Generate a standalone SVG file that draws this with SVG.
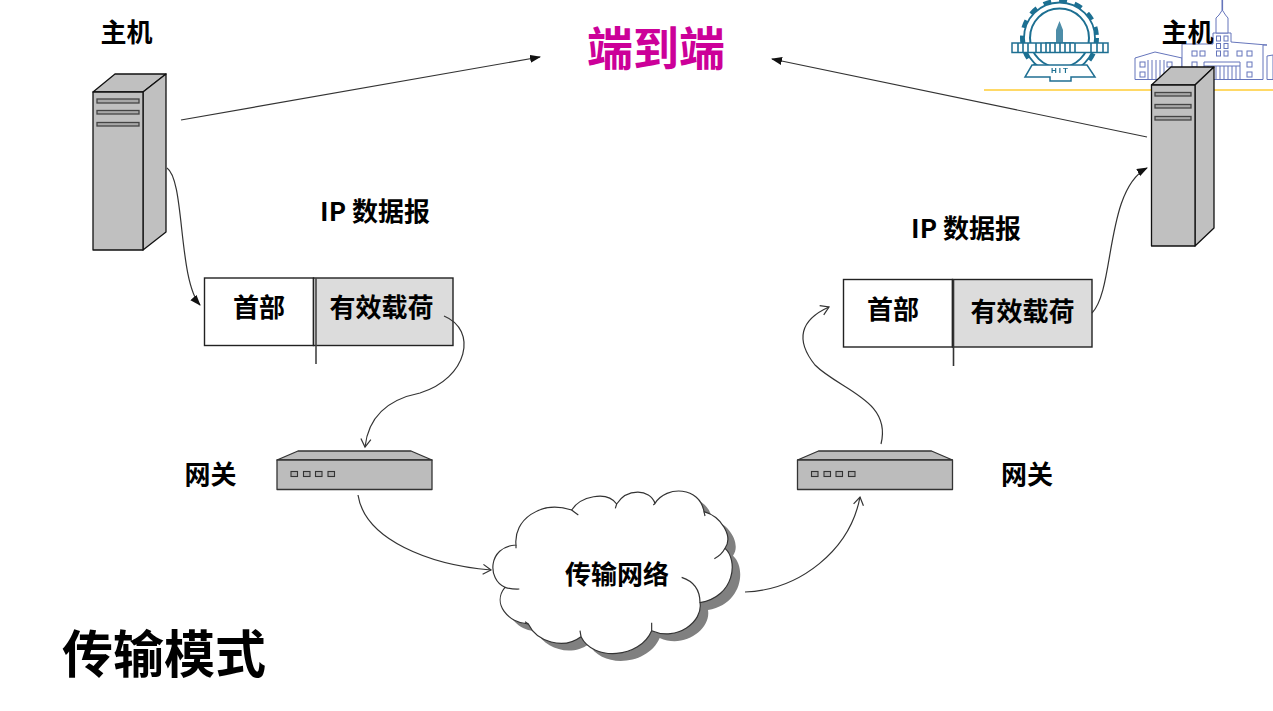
<svg xmlns="http://www.w3.org/2000/svg" xmlns:xlink="http://www.w3.org/1999/xlink" width="1273" height="711" viewBox="0 0 1273 711">
<style>
text{font-family:"Noto Sans CJK SC","Liberation Sans",sans-serif;font-weight:700;fill:#000;text-anchor:middle}
.t26{font-size:26px}
.srv{fill:#c0c0c0;stroke:#111;stroke-width:1.3;stroke-linejoin:round}
.slot{fill:#a8a8a8;stroke:#444;stroke-width:1.3}
.gw{fill:#bcbcbc;stroke:#333;stroke-width:1.3;stroke-linejoin:round}
.led{fill:#aaa;stroke:#333;stroke-width:1.1}
.box{stroke:#222;stroke-width:1.4}
.c{fill:none;stroke:#333;stroke-width:1.2}
.lg{fill:none;stroke:#1f6f92}
.wn{fill:#fff;stroke:#6575bb;stroke-width:1}
.bl{fill:#fff;stroke:#6575bb;stroke-width:1}
</style>
<defs>
<filter id="soft" x="-5%" y="-5%" width="110%" height="110%"><feGaussianBlur stdDeviation="0.45"/></filter>
<marker id="filled" markerWidth="12" markerHeight="10" refX="10" refY="4" orient="auto" markerUnits="userSpaceOnUse"><path d="M0,0 L11,4 L0,8 Z" fill="#111"/></marker>
<marker id="open" markerWidth="12" markerHeight="12" refX="9" refY="6" orient="auto" markerUnits="userSpaceOnUse"><path d="M1,1 L9,6 L1,11" fill="none" stroke="#333" stroke-width="1.200"/></marker>
<g id="gwShape">
<path class="gw" d="M277,460 L298,451 L411,451 L432,460 Z"/>
<rect class="gw" x="277" y="460" width="155" height="29.500"/>
<rect class="led" x="291" y="471.500" width="6.500" height="5"/>
<rect class="led" x="303.500" y="471.500" width="6.500" height="5"/>
<rect class="led" x="315.500" y="471.500" width="6.500" height="5"/>
<rect class="led" x="328" y="471.500" width="6.500" height="5"/>
</g>
<path id="cloudPath" d="M108,195 C100,120 180,60 275,90 C300,50 380,30 410,72 C440,25 510,25 525,70 C560,15 660,20 672,95 C725,110 760,170 735,205 C775,240 765,350 660,368 C670,425 590,485 515,452 C480,535 340,545 303,470 C250,510 170,485 145,432 C85,430 35,370 75,322 C22,300 22,200 108,195 Z"/>
</defs>
<rect width="1273" height="711" fill="#fff"/>

<g id="logo">
<line x1="984" y1="90" x2="1273" y2="90" stroke="#ffd966" stroke-width="2"/>
<g id="emblem" filter="url(#soft)">
<circle class="lg" cx="1059.500" cy="38" r="29.500" stroke-width="2"/>
<circle class="lg" cx="1059.500" cy="38" r="35.500" stroke-width="1.800"/>
<circle class="lg" cx="1059.500" cy="38" r="37.500" stroke-width="4" stroke-dasharray="8 8"/>
<path d="M1045,52 V42 H1074 V52 Z" fill="#1f6f92" opacity=".7"/>
<path d="M1059.500,21 L1056,30 H1063 Z M1056,30 H1063 V42 H1056 Z" fill="#1f6f92" opacity=".8"/>
<rect x="1012" y="43" width="96" height="9.500" fill="#fff" stroke="#1f6f92" stroke-width="1.500"/>
<path d="M1018,43v10M1023,43v10M1028,43v10M1036,43v10M1041,43v10M1046,43v10M1050,43v10M1055,43v10M1060,43v10M1065,43v10M1070,43v10M1075,43v10M1091,43v10M1097,43v10M1103,43v10" stroke="#1f6f92" stroke-width="1.600"/>
<path d="M1032,65 H1087 L1095,77 H1071 V81 H1050 V77 H1025 Z" fill="#fff" stroke="#1f6f92" stroke-width="1.500"/>
<text x="1060.500" y="72.500" style="font-size:8px;letter-spacing:2px;fill:#1f6f92;font-family:'Liberation Sans',sans-serif">HIT</text>
</g>
<g id="building" filter="url(#soft)">
<line x1="1222.300" y1="0" x2="1222.300" y2="10" stroke="#6575bb" stroke-width="1.600"/>
<path class="bl" d="M1135,79.500 V58 L1155,52 L1182,58 V79.500 Z"/>
<path class="bl" d="M1182,79.500 V44 H1213 V33 H1231 V42 L1267,45 H1263 V79.500 Z"/>
<path class="bl" d="M1267,79.500 V56 L1273,55 V79.500 Z"/>
<path class="bl" d="M1216,33 V18 L1219,15 L1222.300,10 L1225.500,15 L1228,18 V33 Z"/>
<path d="M1148,60v19M1152,60v19M1156,60v19M1160,60v19M1164,60v19" stroke="#6575bb"/>
<rect class="wn" x="1140" y="62" width="5" height="5"/><rect class="wn" x="1140" y="72" width="5" height="5"/>
<rect class="wn" x="1167" y="62" width="5" height="5"/><rect class="wn" x="1167" y="72" width="5" height="5"/>
<rect class="wn" x="1192" y="51" width="5" height="5"/><rect class="wn" x="1200" y="51" width="5" height="5"/><rect class="wn" x="1192" y="62" width="5" height="5"/>
<rect class="wn" x="1216.500" y="36" width="4" height="5"/><rect class="wn" x="1224" y="36" width="4" height="5"/>
<rect class="wn" x="1216.500" y="43.500" width="4" height="5"/><rect class="wn" x="1224" y="43.500" width="4" height="5"/>
<rect class="wn" x="1216.500" y="51" width="4" height="5"/><rect class="wn" x="1224" y="51" width="4" height="5"/>
<rect class="wn" x="1237" y="51" width="5" height="5"/><rect class="wn" x="1247" y="51" width="5" height="5"/>
<rect class="wn" x="1247" y="62" width="5" height="5"/><rect class="wn" x="1247" y="72" width="5" height="5"/>
<path d="M1204,66 V62 H1240 V66 H1204 V79.500 H1240 V66" fill="#fff" stroke="#6575bb"/>
<path d="M1208,66v13M1212,66v13M1216,66v13M1220,66v13M1224,66v13M1228,66v13M1232,66v13M1236,66v13" stroke="#6575bb"/>
</g>
</g>

<g id="host-left">
<path class="srv" d="M93,92 L115,74 H166 L143,92 Z"/>
<path class="srv" d="M143,92 L166,74 V232 L143,250 Z"/>
<rect class="srv" x="93" y="92" width="50" height="158"/>
<rect class="slot" x="97" y="99" width="42" height="4"/>
<rect class="slot" x="97" y="110.500" width="42" height="3.500"/>
<rect class="slot" x="97" y="122.500" width="42" height="3.500"/>
<text class="t26" x="126.500" y="42">主机</text>
</g>

<g id="host-right">
<text class="t26" x="1187.500" y="42">主机</text>
<path class="srv" d="M1151.500,85 L1171,67 H1214 L1195,85 Z"/>
<path class="srv" d="M1195,85 L1214,67 V228 L1195,246 Z"/>
<rect class="srv" x="1151.500" y="85" width="43.500" height="161"/>
<rect class="slot" x="1155" y="92.500" width="36" height="3.500"/>
<rect class="slot" x="1155" y="104.500" width="36" height="3.500"/>
<rect class="slot" x="1155" y="116.500" width="36" height="3.500"/>
</g>

<g id="title-e2e"><text x="656" y="65" style="font-size:46px;fill:#cc0099">端到端</text></g>
<g id="title-mode"><text x="164" y="673" style="font-size:51px">传输模式</text></g>

<g id="packet-left">
<text class="t26" x="375" y="221">IP 数据报</text>
<rect class="box" x="204.500" y="278" width="109" height="67.500" fill="#fff"/>
<rect class="box" x="313.500" y="278" width="139.500" height="67.500" fill="#dcdcdc"/>
<line x1="316" y1="278" x2="316" y2="364" stroke="#444" stroke-width="1.600"/>
<text class="t26" x="259" y="317">首部</text>
<text class="t26" x="381.500" y="317">有效载荷</text>
</g>

<g id="packet-right">
<text class="t26" x="966" y="238">IP 数据报</text>
<rect class="box" x="843.500" y="279.500" width="109" height="67.500" fill="#fff"/>
<rect class="box" x="952.500" y="279.500" width="139.500" height="67.500" fill="#dcdcdc"/>
<line x1="953.500" y1="279.500" x2="953.500" y2="366" stroke="#333" stroke-width="1.600"/>
<text class="t26" x="893" y="319">首部</text>
<text class="t26" x="1022.500" y="321">有效载荷</text>
</g>

<g id="gateway-left">
<use href="#gwShape" xlink:href="#gwShape"/>
<text class="t26" x="210.500" y="484">网关</text>
</g>
<g id="gateway-right">
<use href="#gwShape" xlink:href="#gwShape" x="520.500"/>
<text class="t26" x="1027" y="484">网关</text>
</g>

<g id="cloud">
<g transform="translate(480,480) scale(.33333)">
<use href="#cloudPath" xlink:href="#cloudPath" x="24" y="22" fill="#808080"/>
<use href="#cloudPath" xlink:href="#cloudPath" fill="#fff" stroke="#333" stroke-width="3.500"/>
<path fill="none" stroke="#333" stroke-width="3.500" d="M275,90 Q285,98 295,105 M410,72 L406,85 M525,70 L520,75 M672,95 L675,108 M735,205 Q725,225 703,236 M605,292 Q660,310 660,368 M515,452 L515,428 M303,470 L300,452 M145,432 L135,425 M75,322 Q95,328 118,327 M108,195 L108,205"/>
</g>
<text class="t26" x="617" y="584">传输网络</text>
</g>

<g id="connectors">
<path class="c" d="M181,120 L540,57" marker-end="url(#filled)"/>
<path class="c" d="M1147,137 L772,59" marker-end="url(#filled)"/>
<path class="c" d="M167,168 C185,180 178,280 200,305" marker-end="url(#filled)"/>
<path class="c" d="M444,316 C478,330 468,378 420,393 C385,400 368,420 365,447" marker-end="url(#open)"/>
<path class="c" d="M358,495 C365,540 430,565 491,570" marker-end="url(#open)"/>
<path class="c" d="M745,592 C800,590 850,550 860,497" marker-end="url(#open)"/>
<path class="c" d="M881,444 C892,400 840,390 815,365 C795,340 800,320 829,307" marker-end="url(#open)"/>
<path class="c" d="M1092,313 C1115,290 1105,190 1147,168" marker-end="url(#filled)"/>
</g>
</svg>
